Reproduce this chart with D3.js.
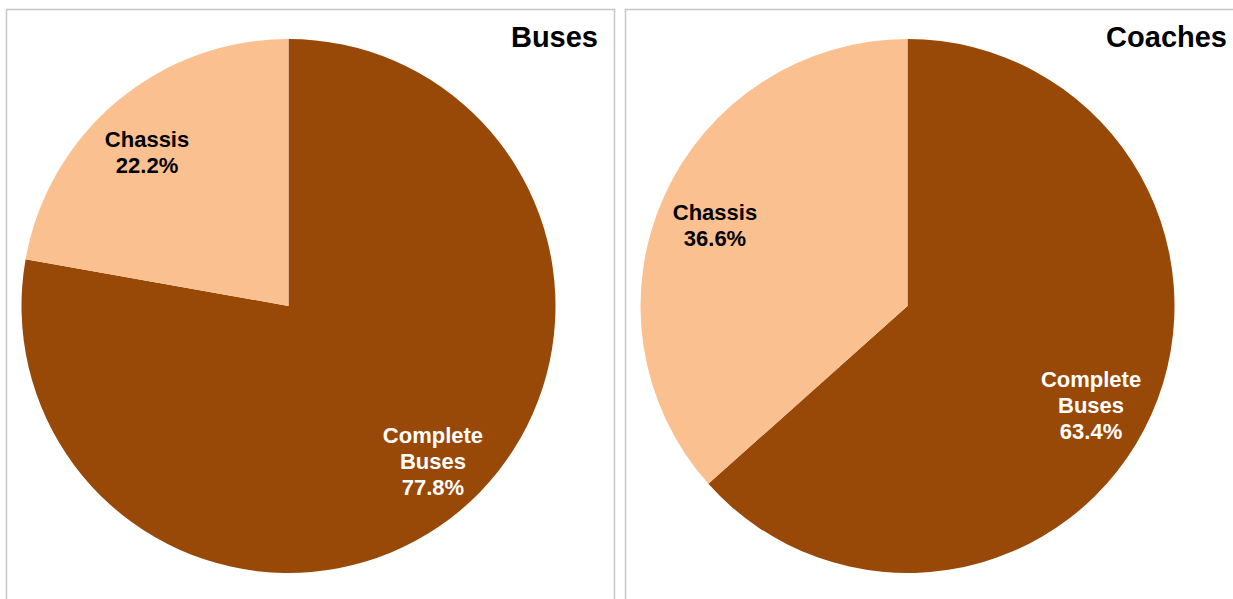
<!DOCTYPE html>
<html>
<head>
<meta charset="utf-8">
<script src="https://cdn.jsdelivr.net/npm/d3@7"></script>
<style>
  html, body { margin: 0; padding: 0; background: #ffffff; }
  svg { display: block; }
  text { font-family: "Liberation Sans", Arial, sans-serif; font-weight: bold; }
</style>
</head>
<body>
<svg id="chart" width="1233" height="599"></svg>
<script>
// Segment split of body production: complete vehicles vs. chassis only
const categories = ["Complete Buses", "Chassis"];
const labelLines = [["Complete", "Buses"], ["Chassis"]];
const panelTitles = ["Buses", "Coaches"];
const busesShare = [77.8, 22.2];
const coachesShare = [63.4, 36.6];

const colors = d3.scaleOrdinal().domain(categories).range(["#984807", "#FAC090"]);
const labelColors = d3.scaleOrdinal().domain(categories).range(["#ffffff", "#000000"]);

const svg = d3.select("#chart");

// frame geometry and small label nudges (per category) for each panel
const panels = [
  { title: panelTitles[0], values: busesShare, x0: 6.5, x1: 614.5, cx: 288.5, titleX: 598,
    nudge: [[9, -7], [-6, 8]] },
  { title: panelTitles[1], values: coachesShare, x0: 625.5, x1: 1250, cx: 907.5, titleX: 1227,
    nudge: [[-9, 13], [0, 5]] }
];

const cy = 306;
const radius = 267;
const labelRadius = radius * 0.79;
const fontSize = 22;
const lineHeight = 26;

const pie = d3.pie().sort(null).value(d => d.value);
const arc = d3.arc().innerRadius(0).outerRadius(radius);
const labelArc = d3.arc().innerRadius(labelRadius).outerRadius(labelRadius);

panels.forEach(p => {
  const g = svg.append("g");

  // panel frame
  g.append("rect")
    .attr("x", p.x0).attr("y", 9.5)
    .attr("width", p.x1 - p.x0).attr("height", 700)
    .attr("fill", "#ffffff")
    .attr("stroke", "#c6c6c6")
    .attr("stroke-width", 1.5);

  g.append("text")
    .attr("x", p.titleX).attr("y", 47)
    .attr("text-anchor", "end")
    .attr("font-size", 29)
    .attr("fill", "#000000")
    .text(p.title);

  const data = categories.map((c, i) => ({ category: c, value: p.values[i], lines: labelLines[i], nudge: p.nudge[i] }));
  const arcs = pie(data);

  const pieG = g.append("g").attr("transform", `translate(${p.cx},${cy})`);

  pieG.selectAll("path")
    .data(arcs)
    .join("path")
    .attr("d", arc)
    .attr("fill", d => colors(d.data.category));

  const labels = pieG.selectAll("text.lbl")
    .data(arcs)
    .join("text")
    .attr("class", "lbl")
    .attr("text-anchor", "middle")
    .attr("font-size", fontSize)
    .attr("fill", d => labelColors(d.data.category))
    .attr("transform", d => {
      const [x, y] = labelArc.centroid(d);
      return `translate(${x + d.data.nudge[0]},${y + d.data.nudge[1]})`;
    });

  labels.each(function(d) {
    const lines = d.data.lines.concat([d3.format(".1f")(d.data.value) + "%"]);
    const n = lines.length;
    const t = d3.select(this);
    lines.forEach((ln, i) => {
      t.append("tspan")
        .attr("x", 0)
        .attr("y", (i - (n - 1) / 2) * lineHeight + fontSize * 0.36)
        .text(ln);
    });
  });
});
</script>
</body>
</html>
